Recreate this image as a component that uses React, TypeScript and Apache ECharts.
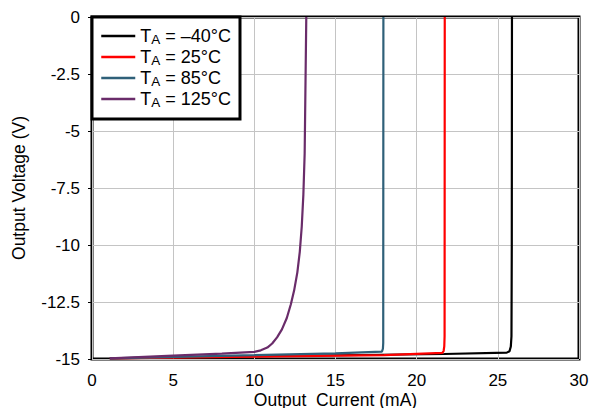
import React, { useEffect, useRef } from "react";
import * as echarts from "echarts";

const xTicks = [0, 5, 10, 15, 20, 25, 30];
const seriesNames = ["TA = –40°C", "TA = 25°C", "TA = 85°C", "TA = 125°C"];
const legendLabels = ["T{s|A} = –40°C", "T{s|A} = 25°C", "T{s|A} = 85°C", "T{s|A} = 125°C"];
const colors = ["#000000", "#ff0000", "#2f6079", "#6a2c6a"];

const m40X = [1.1, 10, 21.7, 25.55, 25.72, 25.8, 25.84, 25.86, 25.87];
const m40Y = [-14.97, -14.88, -14.78, -14.72, -14.66, -14.45, -14.0, -10, 0];

const p25X = [1.1, 10, 18, 21.58, 21.66, 21.7, 21.72, 21.73];
const p25Y = [-14.97, -14.9, -14.83, -14.73, -14.65, -14.45, -14.0, 0];

const p85X = [1.1, 10, 15, 17.86, 17.92, 17.94, 17.95];
const p85Y = [-14.97, -14.83, -14.75, -14.68, -14.55, -14.3, 0];

const p125X = [1.1, 5, 8, 10, 10.4, 10.8, 11.1, 11.4, 11.7, 12.0, 12.25, 12.45, 12.65, 12.8, 12.92, 13.02, 13.1, 13.15, 13.2];
const p125Y = [-14.97, -14.85, -14.76, -14.69, -14.62, -14.5, -14.32, -14.05, -13.7, -13.2, -12.6, -12.0, -11.2, -10.3, -9.2, -7.8, -6, -3, 0];

const xs = [m40X, p25X, p85X, p125X];
const ys = [m40Y, p25Y, p85Y, p125Y];

export default function App() {
  const ref = useRef<HTMLDivElement>(null);
  useEffect(() => {
    const chart = echarts.init(ref.current!, null, { renderer: "svg" });
    const font = "Liberation Sans, Arial, sans-serif";
    chart.setOption({
      animation: false,
      textStyle: { fontFamily: font },
      grid: {
        left: 92,
        right: 14,
        top: 17,
        bottom: 49,
        show: true,
        borderColor: "#000",
        borderWidth: 3,
        backgroundColor: "transparent",
        containLabel: false,
        outerBoundsMode: "none",
      },
      legend: {
        left: 92,
        top: 17,
        orient: "vertical",
        backgroundColor: "#fff",
        borderColor: "#000",
        borderWidth: 3,
        borderRadius: 0,
        padding: [9, 9, 10, 8],
        itemWidth: 34,
        itemHeight: 14,
        itemGap: 1,
        data: seriesNames,
        itemStyle: { opacity: 0 },
        lineStyle: { width: 2.5 },
        formatter: (name: string) => legendLabels[seriesNames.indexOf(name)],
        textStyle: {
          fontSize: 18,
          lineHeight: 20,
          color: "#000",
          fontFamily: font,
          rich: {
            s: { fontSize: 13.5, lineHeight: 12, verticalAlign: "bottom", color: "#000", fontFamily: font },
          },
        },
      },
      xAxis: {
        type: "value",
        min: xTicks[0],
        max: xTicks[xTicks.length - 1],
        interval: 5,
        name: "Output  Current (mA)",
        nameLocation: "middle",
        nameGap: 32,
        nameMoveOverlap: false,
        nameTextStyle: { fontSize: 17.5, lineHeight: 17, color: "#000", fontFamily: font },
        axisLine: { show: false },
        axisTick: { show: false },
        axisLabel: { fontSize: 17, lineHeight: 17, color: "#000", margin: 13, fontFamily: font },
        splitLine: { show: true, lineStyle: { color: "#c4c4c4", width: 1 } },
      },
      yAxis: {
        type: "value",
        min: -15,
        max: 0,
        interval: 2.5,
        name: "Output Voltage (V)",
        nameLocation: "middle",
        nameGap: 64,
        nameMoveOverlap: false,
        nameTextStyle: { fontSize: 17.5, color: "#000", fontFamily: font },
        axisLine: { show: false },
        axisTick: { show: true, length: 4, lineStyle: { color: "#000" } },
        axisLabel: { fontSize: 17, color: "#000", margin: 12, fontFamily: font },
        splitLine: { show: true, lineStyle: { color: "#c4c4c4", width: 1 } },
      },
      series: seriesNames.map((n, i) => ({
        name: n,
        type: "line",
        showSymbol: false,
        symbol: "none",
        smooth: false,
        data: xs[i].map((x, j) => [x, ys[i][j]]),
        lineStyle: { color: colors[i], width: 2.2 },
        itemStyle: { color: colors[i] },
      })),
    });
    return () => chart.dispose();
  }, []);
  return <div ref={ref} style={{ width: 593, height: 408, position: "absolute", left: 0, top: 0 }} />;
}
